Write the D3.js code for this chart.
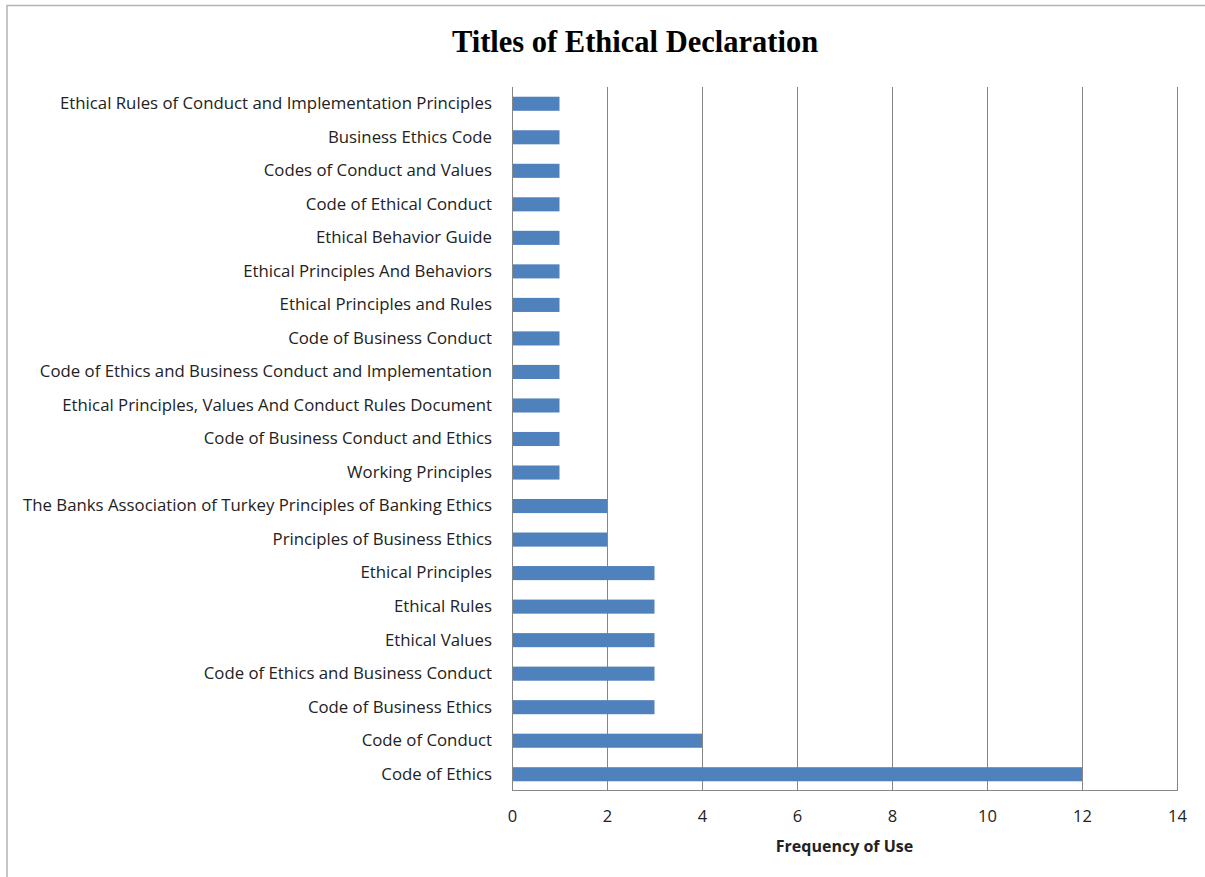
<!DOCTYPE html>
<html>
<head>
<meta charset="utf-8">
<script src="https://cdn.jsdelivr.net/npm/d3@7"></script>
<style>
  html, body { margin: 0; padding: 0; background: #fff; }
  svg { display: block; }
</style>
</head>
<body>
<svg id="chart" width="1205" height="877"></svg>
<script>
const categories = [
  "Ethical Rules of Conduct and Implementation Principles",
  "Business Ethics Code",
  "Codes of Conduct and Values",
  "Code of Ethical Conduct",
  "Ethical Behavior Guide",
  "Ethical Principles And Behaviors",
  "Ethical Principles and Rules",
  "Code of Business Conduct",
  "Code of Ethics and Business Conduct and Implementation",
  "Ethical Principles, Values And Conduct Rules Document",
  "Code of Business Conduct and Ethics",
  "Working Principles",
  "The Banks Association of Turkey Principles of Banking Ethics",
  "Principles of Business Ethics",
  "Ethical Principles",
  "Ethical Rules",
  "Ethical Values",
  "Code of Ethics and Business Conduct",
  "Code of Business Ethics",
  "Code of Conduct",
  "Code of Ethics"
];
const values = [1,1,1,1,1,1,1,1,1,1,1,1,2,2,3,3,3,3,3,4,12];
const xTicks = [0,2,4,6,8,10,12,14];
const titleText = "Titles of Ethical Declaration";
const xAxisTitle = "Frequency of Use";

const svg = d3.select("#chart");
const plot = { left: 512, right: 1177, top: 87, bottom: 791 };
const labelFont = "'Open Sans', sans-serif";

// outer chart border
svg.append("path")
  .attr("d", "M7,1200 L7,5.5 L1205,5.5")
  .attr("fill", "none").attr("stroke", "#b3b3b3").attr("stroke-width", 1.5);

const x = d3.scaleLinear().domain([0, 14]).range([plot.left, plot.right]);
const y = d3.scaleBand().domain(categories).range([plot.top, plot.bottom]).paddingInner(0.58).paddingOuter(0.29);

// gridlines
svg.append("g").selectAll("line").data(xTicks.filter(d => d > 0)).join("line")
  .attr("x1", d => x(d) + 0.5).attr("x2", d => x(d) + 0.5)
  .attr("y1", plot.top).attr("y2", plot.bottom)
  .attr("stroke", "#868686").attr("stroke-width", 1);

// bars
svg.append("g").selectAll("rect").data(categories).join("rect")
  .attr("x", x(0) + 1)
  .attr("y", d => y(d))
  .attr("width", (d, i) => x(values[i]) - x(0) - 1)
  .attr("height", y.bandwidth())
  .attr("fill", "#4f81bd");

// axes lines
svg.append("line").attr("x1", plot.left + 0.5).attr("x2", plot.left + 0.5)
  .attr("y1", plot.top).attr("y2", plot.bottom)
  .attr("stroke", "#868686");
svg.append("line").attr("x1", plot.left).attr("x2", plot.right + 1)
  .attr("y1", plot.bottom - 0.5).attr("y2", plot.bottom - 0.5)
  .attr("stroke", "#868686");

// x tick labels
const xAxis = d3.axisBottom(x).tickValues(xTicks).tickSize(0).tickPadding(19).tickFormat(d3.format("d"));
const gx = svg.append("g").attr("transform", `translate(0,${plot.bottom})`).call(xAxis);
gx.select(".domain").remove();
gx.selectAll("text")
  .attr("font-family", labelFont).attr("font-size", 16.5).attr("fill", "#222");

// y labels
const yAxis = d3.axisLeft(y).tickSize(0).tickPadding(20);
const gy = svg.append("g").attr("transform", `translate(${plot.left},0)`).call(yAxis);
gy.select(".domain").remove();
gy.selectAll("text")
  .attr("font-family", labelFont).attr("font-size", 16.8).attr("fill", "#222");

// title
svg.append("text").attr("x", 635).attr("y", 52).attr("text-anchor", "middle")
  .attr("font-family", "'Liberation Serif', 'Times New Roman', serif")
  .attr("font-weight", "bold").attr("font-size", 30.5).attr("fill", "#000")
  .text(titleText);

// x axis title
svg.append("text").attr("x", (plot.left + plot.right) / 2).attr("y", 852).attr("text-anchor", "middle")
  .attr("font-family", labelFont)
  .attr("font-weight", "bold").attr("font-size", 16).attr("fill", "#222")
  .text(xAxisTitle);
</script>
</body>
</html>
